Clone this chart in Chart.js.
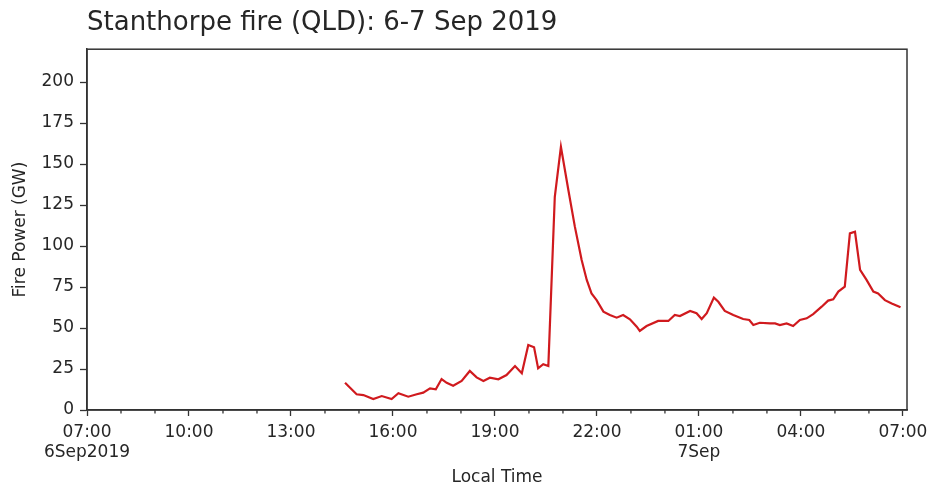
<!DOCTYPE html>
<html>
<head>
<meta charset="utf-8">
<script src="https://cdn.jsdelivr.net/npm/chart.js@4"></script>
<style>
  html, body { margin: 0; padding: 0; background: #fff; }
  #wrap { width: 930px; height: 488px; }
</style>
</head>
<body>
<div id="wrap"><canvas id="chart" width="930" height="488"></canvas></div>
<script>
'use strict';
// hours after 07:00 on 6 Sep 2019
let hours = [7.59, 7.93, 8.13, 8.42, 8.67, 8.96, 9.16, 9.45, 9.70, 9.89, 10.09, 10.26, 10.43, 10.58, 10.77,
  11.02, 11.26, 11.46, 11.66, 11.85, 12.10, 12.34, 12.59, 12.79, 12.98, 13.15, 13.27, 13.42, 13.57,
  13.76, 13.94, 14.16, 14.35, 14.55, 14.70, 14.84, 14.99, 15.19, 15.38, 15.58, 15.77, 15.97, 16.17,
  16.26, 16.46, 16.80, 17.10, 17.29, 17.44, 17.74, 17.93, 18.08, 18.23, 18.44, 18.57, 18.76, 19.01,
  19.30, 19.48, 19.60, 19.79, 20.09, 20.24, 20.38, 20.58, 20.77, 20.97, 21.17, 21.36, 21.61, 21.80,
  21.95, 22.10, 22.29, 22.44, 22.59, 22.74, 22.93, 23.13, 23.27, 23.47, 23.67, 23.93];
// fire power in GW
let power = [16.6, 9.6, 9.1, 6.7, 8.5, 6.7, 10.2, 8.1, 9.6, 10.6, 13.2, 12.6, 18.9, 16.6, 14.8,
  17.7, 23.8, 19.9, 17.7, 19.7, 18.7, 21.3, 26.8, 22.4, 39.6, 38.2, 25.4, 27.9, 26.8,
  130, 160.5, 134, 111.8, 91.5, 79.3, 71.1, 67, 60, 57.9, 56.3, 57.9, 55.3, 50.8,
  48.2, 51.2, 54.3, 54.3, 57.9, 57.3, 60.4, 59, 55.5, 59, 68.5, 66, 60.4, 57.9,
  55.5, 54.9, 51.8, 53.2, 52.8, 52.8, 51.8, 52.8, 51.2, 54.9, 55.9, 58.5, 63, 66.7,
  67.5, 72.2, 75.2, 107.7, 108.7, 85.4, 79.3, 72.2, 71.1, 67, 65, 62.6];

// x tick labels (major ticks every 3 hours)
let tickHours = [0, 3, 6, 9, 12, 15, 18, 21, 24];
let tickLabels = [['07:00', '6Sep2019'], ['10:00'], ['13:00'], ['16:00'], ['19:00'],
  ['22:00'], ['01:00', '7Sep'], ['04:00'], ['07:00']];
let yTicks = [0, 25, 50, 75, 100, 125, 150, 175, 200];

let textColor = '#262626';
let axisColor = '#333333';
let fontFamily = '"DejaVu Sans", sans-serif';

//build points for the line
function getPoints(){
  let pts = [];
  for (let i = 0; i < hours.length; i++){
    pts.push({x: hours[i], y: power[i]});
  }
  return pts;
}

//draws the box around the plot and the short minor ticks
let framePlugin = {
  id: 'frame',
  afterDraw(chart){
    let ctx = chart.ctx;
    let a = chart.chartArea;
    let xs = chart.scales.x;
    ctx.save();
    ctx.strokeStyle = axisColor;
    ctx.lineWidth = 1.3;
    for (let h = 0; h <= 24; h++){
      if (tickHours.includes(h)) continue;
      let px = xs.getPixelForValue(h);
      ctx.beginPath();
      ctx.moveTo(px, a.bottom);
      ctx.lineTo(px, a.bottom + 3.5);
      ctx.stroke();
    }
    ctx.lineWidth = 1.5;
    ctx.strokeRect(a.left, a.top, a.right - a.left, a.bottom - a.top);
    ctx.restore();
  }
};

let ctx = document.getElementById('chart').getContext('2d');
new Chart(ctx, {
  type: 'line',
  data: {
    datasets: [{
      data: getPoints(),
      borderColor: '#d01a1e',
      borderWidth: 2.2,
      pointRadius: 0,
      tension: 0,
      fill: false
    }]
  },
  options: {
    responsive: false,
    animation: false,
    layout: {padding: {top: 0, right: 23, bottom: 0, left: 0}},
    plugins: {
      legend: {display: false},
      tooltip: {enabled: false},
      title: {
        display: true,
        text: 'Stanthorpe fire (QLD): 6-7 Sep 2019',
        align: 'start',
        fullSize: false,
        color: textColor,
        font: {family: fontFamily, size: 26, weight: 'normal'},
        padding: {top: 8, bottom: 10}
      }
    },
    scales: {
      x: {
        type: 'linear',
        min: 0,
        max: 24.12,
        afterBuildTicks: scale => {
          scale.ticks = tickHours.map(h => ({value: h}));
        },
        afterFit: scale => {
          scale.height = 78;
          scale.paddingLeft = 0;
          scale.paddingRight = 0;
        },
        ticks: {
          color: textColor,
          font: {family: fontFamily, size: 17},
          padding: 6,
          maxRotation: 0,
          autoSkip: false,
          callback: value => {
            let i = tickHours.indexOf(value);
            return i >= 0 ? tickLabels[i] : '';
          }
        },
        grid: {
          drawOnChartArea: false,
          drawTicks: true,
          tickLength: 6,
          tickColor: axisColor,
          tickWidth: 1.3
        },
        border: {display: true, color: axisColor, width: 1.5},
        title: {
          display: true,
          text: 'Local Time',
          color: textColor,
          font: {family: fontFamily, size: 17},
          padding: {top: 0, bottom: 0}
        }
      },
      y: {
        type: 'linear',
        min: 0,
        max: 220,
        afterBuildTicks: scale => {
          scale.ticks = yTicks.map(v => ({value: v}));
        },
        afterFit: scale => {
          scale.width = 87;
          scale.paddingTop = 0;
          scale.paddingBottom = 0;
        },
        ticks: {
          color: textColor,
          font: {family: fontFamily, size: 17},
          padding: 6
        },
        grid: {
          drawOnChartArea: false,
          drawTicks: true,
          tickLength: 7,
          tickColor: axisColor,
          tickWidth: 1.3
        },
        border: {display: true, color: axisColor, width: 1.5},
        title: {
          display: true,
          text: 'Fire Power (GW)',
          color: textColor,
          font: {family: fontFamily, size: 17},
          padding: {top: 10, bottom: 0}
        }
      }
    }
  },
  plugins: [framePlugin]
});
</script>
</body>
</html>
